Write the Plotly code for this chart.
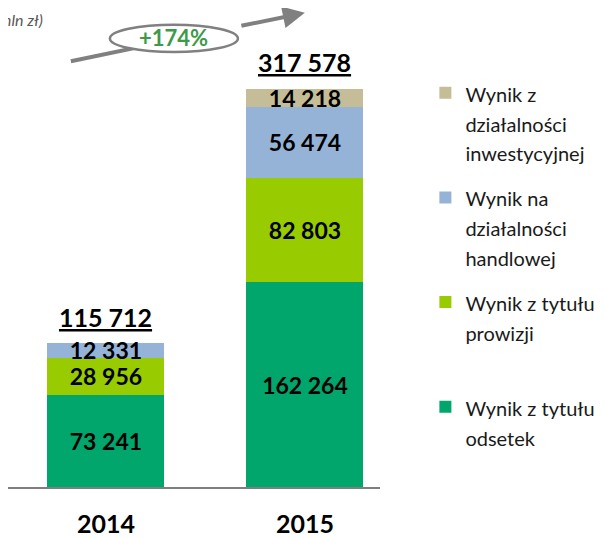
import plotly.graph_objects as go

years = ["2014", "2015"]
interest = [73241, 162264]
commission = [28956, 82803]
trading = [12331, 56474]
investment = [None, 14218]
totals = [115712, 317578]
growth = "+174%"

names = [
    "Wynik z<br>działalności<br>inwestycyjnej",
    "Wynik na<br>działalności<br>handlowej",
    "Wynik z tytułu<br>prowizji<br> ",
    "Wynik z tytułu<br>odsetek",
]
colors = ["#c4bd97", "#95b3d7", "#99cc00", "#00a66c"]
series = [investment, trading, commission, interest]

FONT = "Lato"


def fmt(v):
    return "" if v is None else f"{v:,}".replace(",", " ")


def leg(name):
    return "<br>".join(f"<span style='font-size:20px'>{p}</span>" for p in name.split("<br>"))


fig = go.Figure()
for rank, (vals, name, col) in reversed(list(enumerate(zip(series, names, colors)))):
    fig.add_trace(go.Bar(
        x=years, y=vals, name=leg(name), legendgroup=str(rank), legendrank=rank + 1,
        marker=dict(color=col, line_width=0),
        text=[fmt(v) for v in vals], textposition="inside",
        insidetextanchor="middle",
        textfont=dict(family=FONT, size=23, color="black", weight="bold"),
    ))

for i, tot in enumerate(totals):
    fig.add_annotation(
        x=i, y=tot, xref="x", yref="y", text="<u>" + fmt(tot) + "</u>",
        showarrow=False, yanchor="bottom", yshift=7,
        font=dict(family=FONT, size=25, color="black", weight="bold"),
    )

# growth arrow: shaft under the ellipse, head as annotation arrow
fig.add_shape(type="line", xref="paper", yref="paper",
              x0=0.169, y0=0.889, x1=0.462, y1=0.936,
              line=dict(color="#808080", width=4))
fig.add_shape(type="circle", xref="paper", yref="paper",
              x0=0.274, x1=0.618, y0=0.908, y1=0.965,
              fillcolor="white", line=dict(color="#808080", width=2.5))
fig.add_annotation(
    xref="paper", yref="paper", x=0.798, y=0.990, ax=-65, ay=13.3,
    text="", showarrow=True, arrowhead=2, arrowsize=1.1, arrowwidth=4,
    arrowcolor="#808080",
)
fig.add_annotation(xref="paper", yref="paper", x=0.444, y=0.939,
                   xanchor="center", yanchor="middle",
                   text="<b>" + growth + "</b>", showarrow=False,
                   font=dict(family=FONT, size=22, color="#3d9a4a"))
fig.add_annotation(xref="paper", yref="paper", x=0.1, y=0.975,
                   xanchor="right", yanchor="middle",
                   text="<i>(w mln zł)</i>", showarrow=False,
                   font=dict(family=FONT, size=16, color="#595959"))

fig.update_layout(
    width=597, height=530,
    margin=dict(l=0, r=225, t=0, b=51, autoexpand=False),
    paper_bgcolor="white", plot_bgcolor="white",
    barmode="stack", bargap=0.412,
    uniformtext=dict(minsize=23, mode="show"),
    showlegend=True,
    legend=dict(
        x=1.122, y=0.868, xanchor="left", yanchor="top",
        traceorder="grouped", tracegroupgap=12, valign="top",
        itemwidth=30, font=dict(family=FONT, size=23, color="#1a1a1a"),
        bgcolor="rgba(0,0,0,0)",
    ),
    xaxis=dict(
        type="category", range=[-0.492, 1.377], showline=True,
        linecolor="#7f7f7f", linewidth=2,
        ticks="", showgrid=False, ticklabelstandoff=14,
        tickfont=dict(family=FONT, size=25, color="black", weight="bold"),
    ),
    yaxis=dict(range=[0, 379800], visible=False, showgrid=False),
)

fig.write_html("out.html")
